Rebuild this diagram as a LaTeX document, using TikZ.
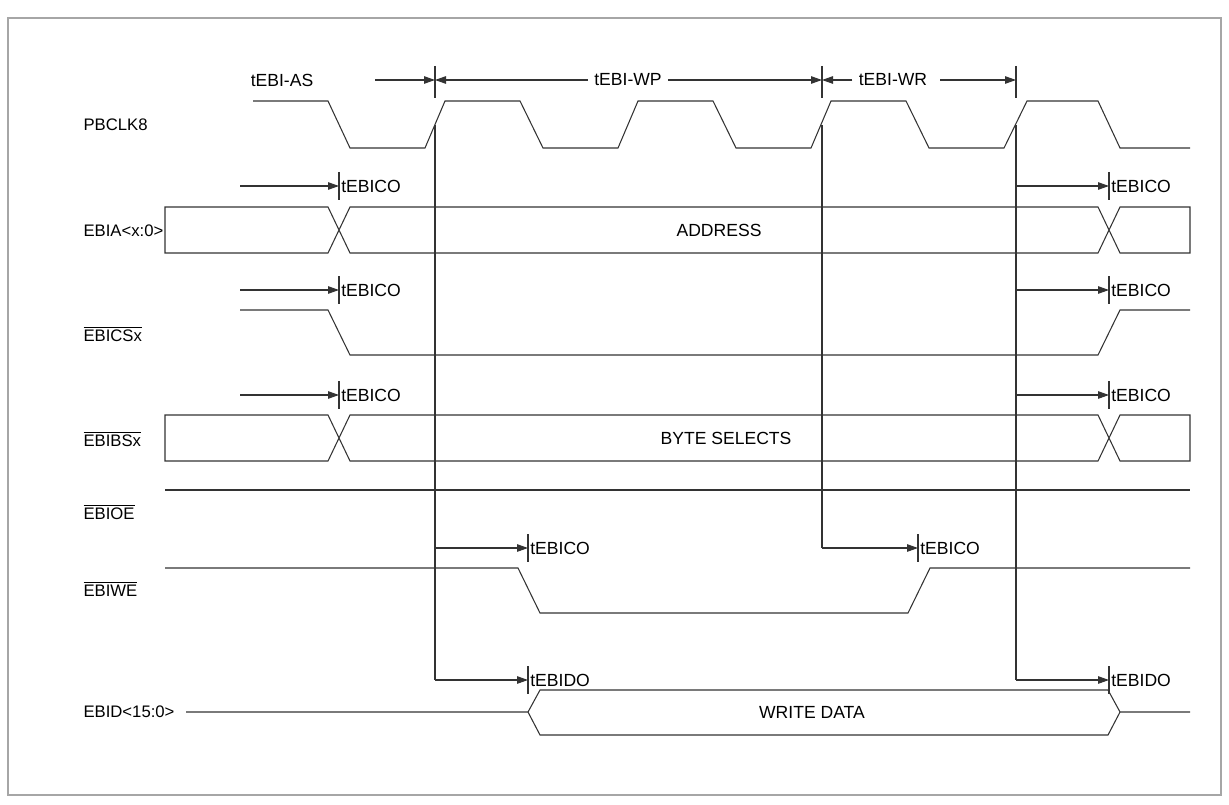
\documentclass[tikz,border=0pt]{standalone}
\usepackage{fontspec}
\setmainfont{Liberation Sans}
\usetikzlibrary{arrows.meta}
\begin{document}
\begin{tikzpicture}[x=0.02cm,y=-0.02cm,line width=0.6pt,draw=black!80,font=\fontsize{10}{12}\selectfont,
  tip/.style={-{Triangle[length=2.2mm,width=1.5mm]}},
  lbl/.style={anchor=west,inner sep=0pt,font=\fontsize{9.5}{12}\selectfont},
  tm/.style={anchor=west,inner sep=1pt}]
	\useasboundingbox (0,0) rectangle (1229,804);
	%frame
	\draw[gray!70] (8,18) rectangle (1221,795);

	%signal names
	\node[lbl] (nclk) at (83,125) {PBCLK8};
	\node[lbl] (naddr) at (83,231) {EBIA<x:0>};
	\node[lbl] (ncs) at (83,334) {$\overline{\mbox{EBICSx}}$};
	\node[lbl] (nbs) at (83,439) {$\overline{\mbox{EBIBSx}}$};
	\node[lbl] (noe) at (83,512) {$\overline{\mbox{EBIOE}}$};
	\node[lbl] (nwe) at (83,589) {$\overline{\mbox{EBIWE}}$};
	\node[lbl] (ndata) at (83,712) {EBID<15:0>};

	%clock
	\draw (253,101) -- (328,101) -- (350,148) -- (425,148)
	  \foreach \x in {425,618,811} {-- (\x+20,101) -- (\x+95,101) -- (\x+118,148) -- (\x+193,148)}
	  -- (1027,101) -- (1098,101) -- (1120,148) -- (1190,148);

	%edge references
	\coordinate (e1) at (435,66);
	\coordinate (e2) at (822,66);
	\coordinate (e3) at (1016,66);
	\draw (e1) -- (435,98);
	\draw (e2) -- (822,98);
	\draw (e3) -- (1016,98);
	\draw (435,125) -- (435,680);
	\draw (822,125) -- (822,548);
	\draw (1016,125) -- (1016,680);

	%interval labels
	\node (tas) at (282,80) {tEBI-AS};
	\node (twp) at (628,80) {tEBI-WP};
	\node (twr) at (893,80) {tEBI-WR};
	\draw[tip] (375,80) -- (435,80);
	\draw[tip] (twp.west) -- (435,80);
	\draw[tip] (twp.east) -- (822,80);
	\draw[tip] (twr.west) -- (822,80);
	\draw[tip] (940,80) -- (1016,80);

	%address bus
	\draw (165,207) -- (328,207) -- (350,253) -- (1098,253) -- (1120,207) -- (1190,207) -- (1190,253) -- (1120,253) -- (1098,207) -- (350,207) -- (328,253) -- (165,253) -- cycle;
	\node (addr) at (719,230) {ADDRESS};
	%chip select
	\draw (240,310) -- (328,310) -- (350,355) -- (1098,355) -- (1120,310) -- (1190,310);
	%byte selects
	\draw (165,415) -- (328,415) -- (350,461) -- (1098,461) -- (1120,415) -- (1190,415) -- (1190,461) -- (1120,461) -- (1098,415) -- (350,415) -- (328,461) -- (165,461) -- cycle;
	\node (bsel) at (726,438) {BYTE SELECTS};
	%output enable
	\draw (165,490) -- (1190,490);
	%write enable
	\draw (165,568) -- (518,568) -- (540,613) -- (908,613) -- (930,568) -- (1190,568);
	%write data
	\draw (186,712) -- (528,712) -- (540,690) -- (1108,690) -- (1120,712) -- (1190,712);
	\draw (528,712) -- (540,735) -- (1108,735) -- (1120,712);
	\node (wdata) at (812,712) {WRITE DATA};

	%clock-to-output markers
	\foreach \y in {186,290,395} {
	  \draw[tip] (240,\y) -- (339,\y);
	  \draw (339,\y-14) -- (339,\y+14);
	  \node[tm] at (339,\y) {tEBICO};
	  \draw[tip] (1016,\y) -- (1109,\y);
	  \draw (1109,\y-14) -- (1109,\y+14);
	  \node[tm] at (1109,\y) {tEBICO};
	}
	\draw[tip] (435,548) -- (528,548);
	\draw (528,534) -- (528,562);
	\node[tm] (wea) at (528,548) {tEBICO};
	\draw[tip] (822,548) -- (918,548);
	\draw (918,534) -- (918,562);
	\node[tm] (web) at (918,548) {tEBICO};
	\draw[tip] (435,680) -- (528,680);
	\draw (528,666) -- (528,694);
	\node[tm] (doa) at (528,680) {tEBIDO};
	\draw[tip] (1016,680) -- (1109,680);
	\draw (1109,666) -- (1109,694);
	\node[tm] (dob) at (1109,680) {tEBIDO};
\end{tikzpicture}
\end{document}
